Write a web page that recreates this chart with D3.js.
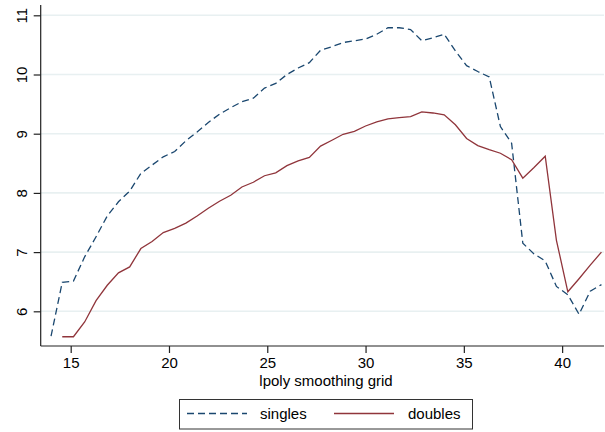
<!DOCTYPE html>
<html>
<head>
<meta charset="utf-8">
<script src="https://cdn.jsdelivr.net/npm/d3@7"></script>
<style>
  html, body { margin: 0; padding: 0; background: #ffffff; }
  svg { display: block; font-family: "Liberation Sans", Arial, Helvetica, sans-serif; }
</style>
</head>
<body>
<svg id="chart" width="605" height="432"></svg>
<script>
// ---- data ----
const gridX = [14.00, 14.57, 15.14, 15.71, 16.29, 16.86, 17.43, 18.00, 18.57, 19.14,
               19.71, 20.29, 20.86, 21.43, 22.00, 22.57, 23.14, 23.71, 24.29, 24.86,
               25.43, 26.00, 26.57, 27.14, 27.71, 28.29, 28.86, 29.43, 30.00, 30.57,
               31.14, 31.71, 32.29, 32.86, 33.43, 34.00, 34.57, 35.14, 35.71, 36.29,
               36.86, 37.43, 38.00, 38.57, 39.14, 39.71, 40.29, 40.86, 41.43, 42.00];
const singles = [5.58, 6.49, 6.51, 6.92, 7.26, 7.61, 7.85, 8.03, 8.33, 8.47,
                 8.61, 8.70, 8.88, 9.03, 9.19, 9.33, 9.44, 9.54, 9.60, 9.77,
                 9.85, 10.00, 10.11, 10.20, 10.41, 10.47, 10.54, 10.57, 10.60, 10.68,
                 10.79, 10.79, 10.76, 10.57, 10.62, 10.68, 10.40, 10.15, 10.05, 9.96,
                 9.12, 8.84, 7.15, 6.97, 6.85, 6.42, 6.28, 5.95, 6.34, 6.45];
const doubles = [null, 5.57, 5.57, 5.82, 6.18, 6.44, 6.65, 6.75, 7.06, 7.18,
                 7.33, 7.40, 7.49, 7.61, 7.74, 7.86, 7.96, 8.10, 8.18, 8.29,
                 8.34, 8.46, 8.54, 8.60, 8.79, 8.89, 8.99, 9.04, 9.13, 9.20,
                 9.25, 9.27, 9.29, 9.37, 9.35, 9.32, 9.15, 8.92, 8.80, 8.73,
                 8.67, 8.56, 8.25, 8.43, 8.62, 7.20, 6.33, 6.55, 6.78, 7.00];
const xTicks = [15, 20, 25, 30, 35, 40];
const yTicks = [6, 7, 8, 9, 10, 11];
const seriesNames = ["singles", "doubles"];
const xTitle = "lpoly smoothing grid";

// ---- layout ----
const plotLeft = 40.7, plotRight = 604, plotTop = 5, plotBottom = 346;
const colors = { singles: "#1a476f", doubles: "#90353b" };

const x = d3.scaleLinear().domain([13.474, 42.13]).range([plotLeft, plotRight]);
const y = d3.scaleLinear().domain([5.414, 11.174]).range([plotBottom, plotTop]);

const svg = d3.select("#chart");

// gridlines
svg.append("g")
  .selectAll("line")
  .data(yTicks)
  .join("line")
  .attr("x1", plotLeft).attr("x2", plotRight)
  .attr("y1", d => y(d)).attr("y2", d => y(d))
  .attr("stroke", "#e8f0f1").attr("stroke-width", 1.6);

// lines
const lineGen = d3.line()
  .defined(d => d[1] !== null)
  .x(d => x(d[0])).y(d => y(d[1]));

svg.append("path")
  .datum(gridX.map((v, i) => [v, singles[i]]))
  .attr("d", lineGen)
  .attr("fill", "none")
  .attr("stroke", colors.singles)
  .attr("stroke-width", 1.3)
  .attr("stroke-dasharray", "7,4");

svg.append("path")
  .datum(gridX.map((v, i) => [v, doubles[i]]))
  .attr("d", lineGen)
  .attr("fill", "none")
  .attr("stroke", colors.doubles)
  .attr("stroke-width", 1.3);

// y axis
const yAxis = d3.axisLeft(y).tickValues(yTicks).tickSize(7).tickFormat(d3.format("d"));
const gy = svg.append("g").attr("transform", `translate(${plotLeft},0)`).call(yAxis);
gy.select(".domain").attr("d", `M0,${plotTop}V${plotBottom}`).attr("stroke", "#222").attr("stroke-width", 1.2);
gy.selectAll(".tick line").attr("stroke", "#222").attr("stroke-width", 1.2);
gy.selectAll(".tick text")
  .attr("x", null).attr("dy", null)
  .attr("font-size", 15).attr("fill", "#000")
  .attr("text-anchor", "middle")
  .attr("transform", "translate(-14,0) rotate(-90)");

// x axis
const xAxis = d3.axisBottom(x).tickValues(xTicks).tickSize(7).tickFormat(d3.format("d"));
const gx = svg.append("g").attr("transform", `translate(0,${plotBottom})`).call(xAxis);
gx.select(".domain").attr("d", `M${plotLeft},0H${plotRight}`).attr("stroke", "#222").attr("stroke-width", 1.2);
gx.selectAll(".tick line").attr("stroke", "#222").attr("stroke-width", 1.2);
gx.selectAll(".tick text")
  .attr("y", 22).attr("dy", null)
  .attr("font-size", 15).attr("fill", "#000");

// x title
svg.append("text")
  .attr("x", 326).attr("y", 386)
  .attr("text-anchor", "middle")
  .attr("font-size", 15).attr("fill", "#000")
  .text(xTitle);

// legend
const lg = svg.append("g");
lg.append("rect")
  .attr("x", 179.5).attr("y", 399.5).attr("width", 293).attr("height", 29.5)
  .attr("fill", "#fff").attr("stroke", "#333").attr("stroke-width", 1);
const legendItems = [
  { name: seriesNames[0], x1: 187, x2: 247, tx: 260, dash: "7,4" },
  { name: seriesNames[1], x1: 334, x2: 394, tx: 408, dash: null }
];
legendItems.forEach(it => {
  lg.append("line")
    .attr("x1", it.x1).attr("x2", it.x2).attr("y1", 413.5).attr("y2", 413.5)
    .attr("stroke", colors[it.name]).attr("stroke-width", 1.3)
    .attr("stroke-dasharray", it.dash);
  lg.append("text")
    .attr("x", it.tx).attr("y", 419)
    .attr("font-size", 15).attr("fill", "#000")
    .text(it.name);
});
</script>
</body>
</html>
